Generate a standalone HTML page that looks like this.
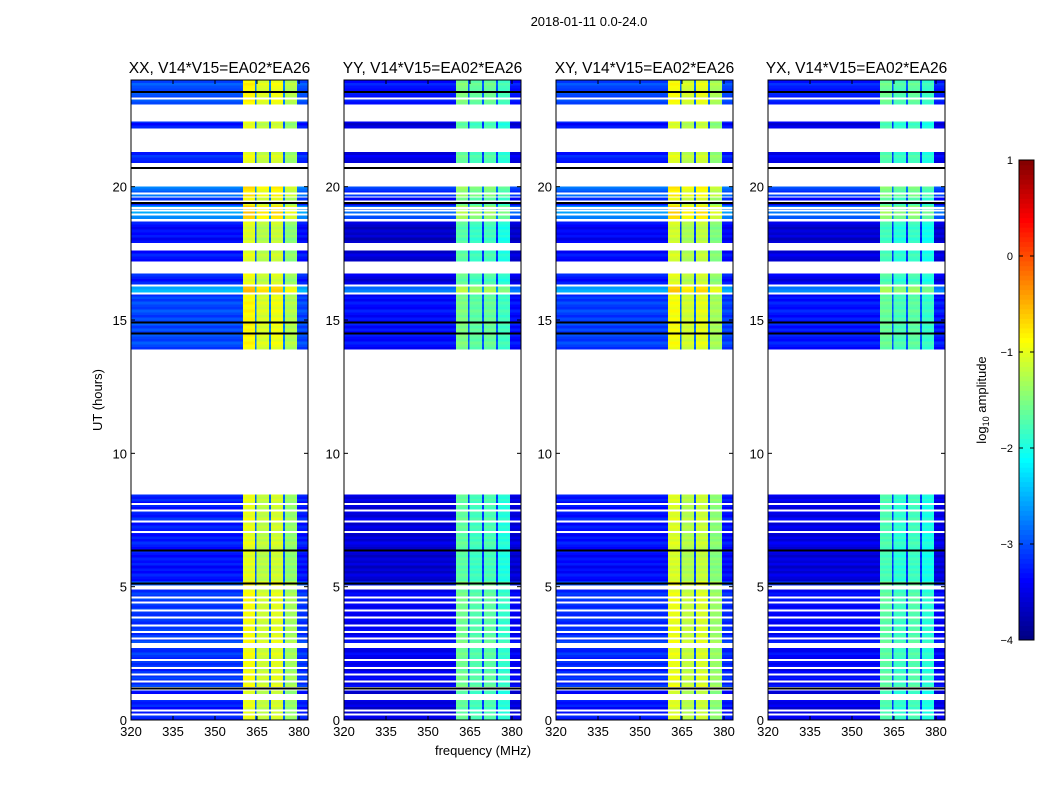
<!DOCTYPE html>
<html><head><meta charset="utf-8">
<style>
body{margin:0;background:#fff;}
svg text{font-family:"Liberation Sans","DejaVu Sans",sans-serif;}
</style></head>
<body>
<svg id="fig" width="1050" height="800" viewBox="0 0 1050 800" xmlns="http://www.w3.org/2000/svg">
<rect width="1050" height="800" fill="#fff"/>
<text x="589" y="26" font-size="13" text-anchor="middle">2018-01-11 0.0-24.0</text>
<text x="483" y="755" font-size="13" text-anchor="middle">frequency (MHz)</text>
<text x="102" y="400" font-size="13" text-anchor="middle" transform="rotate(-90 102 400)">UT (hours)</text>
<g id="panels"></g>
<g id="cbar"></g>
</svg>
<script>
// ---- data ----
const panelTitles = ["XX, V14*V15=EA02*EA26","YY, V14*V15=EA02*EA26","XY, V14*V15=EA02*EA26","YX, V14*V15=EA02*EA26"];
const bgLevel   = [-3.25, -3.55, -3.3, -3.5];
const bandA     = [-1.0, -1.65, -1.05, -1.75];
const bandB     = [-1.2, -1.8, -1.25, -1.9];
const bandC     = [-1.1, -1.75, -1.15, -1.8];
const bandD     = [-1.4, -1.95, -1.45, -2.0];
const notchLevel= [-2.9, -3.1, -3.0, -3.1];
const segments = [
  [0.0,0.75,0.0],[0.98,1.1,0.0],[1.25,2.7,0.1],[2.9,4.9,0.15],[5.05,5.2,0.3],
  [5.2,6.5,-0.05],[6.5,8.45,0.0],
  [13.9,14.5,0.2],[14.5,14.9,0.25],[14.9,15.95,0.2],[16.05,16.25,0.7],[16.35,16.75,0.0],
  [17.2,17.6,-0.05],[17.9,18.7,-0.1],[18.8,19.3,0.6],[19.3,19.6,0.15],[19.65,20.0,0.4],
  [20.9,21.3,0.05],[22.2,22.45,0.0],[23.1,24.0,0.25]
];
const whiteLines = [0.2,0.35,1.45,1.7,1.95,2.25,3.05,3.3,3.55,3.85,4.1,4.4,4.6,7.05,7.45,7.85,8.1,16.0,18.95,19.1,19.2,19.45,19.75,23.3];
const blackLines = [1.18,5.12,6.35,14.5,14.9,19.38,20.7,23.55];
const rowTexture = [0.0,0.12,-0.08,0.05,-0.12,0.1,-0.03,0.08,-0.1,0.02,0.14,-0.06];
const cbTicks = [1,0,-1,-2,-3,-4];
const xTicks = [320,335,350,365,380];
const yTicks = [0,5,10,15,20];

// ---- geometry ----
const panelX = [131,344,556,768], PW=177, PT=80, PB=720;
const F0=320, F1=320+PW/2.8;
const fx=(f,p)=>panelX[p]+(f-F0)/(F1-F0)*PW;
const ty=h=>PB-(h/24)*(PB-PT);
function jet(v){let t=(v+4)/5;t=Math.max(0,Math.min(1,t));
 const c=x=>Math.round(255*Math.max(0,Math.min(1,x)));
 return `rgb(${c(1.5-Math.abs(4*t-3))},${c(1.5-Math.abs(4*t-2))},${c(1.5-Math.abs(4*t-1))})`;}
function level(f,p){
 if(f>=360&&f<364.3) return bandA[p];
 if(f>=364.3&&f<364.8) return notchLevel[p];
 if(f>=364.8&&f<369.3) return bandB[p];
 if(f>=369.3&&f<370) return notchLevel[p];
 if(f>=370&&f<374.3) return bandC[p];
 if(f>=374.3&&f<375) return notchLevel[p];
 if(f>=375&&f<379.3) return bandD[p];
 return bgLevel[p];
}
const NS="http://www.w3.org/2000/svg";
function el(tag,attrs,parent){const e=document.createElementNS(NS,tag);for(const k in attrs)e.setAttribute(k,attrs[k]);parent.appendChild(e);return e;}
const panels=document.getElementById('panels');
const edges=[F0,360,364.3,364.8,369.3,370,374.3,375,379.3,F1];
for(let p=0;p<4;p++){
 const g=el('g',{},panels);
 
 
 const t=el('text',{x:panelX[p]+PW/2,y:73,'font-size':15.5,'text-anchor':'middle'},g);
 t.textContent=panelTitles[p];
 
 
 const hm=el('g',{'shape-rendering':'crispEdges'},g);
 
 
 let ri=0;
 segments.forEach(s=>{
  for(let h=s[0];h<s[1]-1e-6;h+=0.1){
   const h2=Math.min(h+0.1,s[1]);
   const off=s[2]+rowTexture[ri%rowTexture.length];ri++;
   for(let i=0;i<edges.length-1;i++){
    const fm=(edges[i]+edges[i+1])/2;
    const base=level(fm,p);
    const inBand=fm>=360&&fm<379.3;
    const v=base+(inBand?off*0.6:off);
    const r=el('rect',{x:fx(edges[i],p),y:ty(h2),width:fx(edges[i+1],p)-fx(edges[i],p)+0.3,height:ty(h)-ty(h2)+0.3,fill:jet(v)},hm);
    
    
   }
  }
 });
 whiteLines.forEach(h=>{const r=el('rect',{x:panelX[p],y:ty(h)-1,width:PW,height:2,fill:'#fff'},hm);
  });
 blackLines.forEach(h=>{const r=el('rect',{x:panelX[p],y:ty(h)-1,width:PW,height:2,fill:'#000'},hm);
  });
 const fr=el('rect',{x:panelX[p],y:PT,width:PW,height:PB-PT,fill:'none',stroke:'#000','stroke-width':1},g);
 
 xTicks.forEach(f=>{const x=fx(f,p);
  el('line',{x1:x,x2:x,y1:PB,y2:PB-4,stroke:'#000'},g);el('line',{x1:x,x2:x,y1:PT,y2:PT+4,stroke:'#000'},g);
  const tx=el('text',{x:x,y:PB+16,'font-size':13,'text-anchor':'middle'},g);tx.textContent=f;
  });
 yTicks.forEach(v=>{const y=ty(v);
  el('line',{x1:panelX[p],x2:panelX[p]+4,y1:y,y2:y,stroke:'#000'},g);el('line',{x1:panelX[p]+PW,x2:panelX[p]+PW-4,y1:y,y2:y,stroke:'#000'},g);
  const tx=el('text',{x:panelX[p]-4,y:y+5,'font-size':13,'text-anchor':'end'},g);tx.textContent=v;
  });
}
// colorbar
const cb=document.getElementById('cbar');

const CX=1019,CW=15,CT=160,CB=640;
const cy=v=>CB-(v+4)/5*(CB-CT);
for(let i=0;i<100;i++){const v0=-4+i*0.05;
 el('rect',{x:CX,y:cy(v0+0.05),width:CW,height:(CB-CT)/100+0.5,fill:jet(v0+0.025)},cb);}
el('rect',{x:CX,y:CT,width:CW,height:CB-CT,fill:'none',stroke:'#000'},cb);
cbTicks.forEach(v=>{const y=cy(v);
 el('line',{x1:CX,x2:CX+4,y1:y,y2:y,stroke:'#000'},cb);el('line',{x1:CX+CW,x2:CX+CW-4,y1:y,y2:y,stroke:'#000'},cb);
 const tx=el('text',{x:CX-6,y:y+4,'font-size':11,'text-anchor':'end'},cb);tx.textContent=(v<0?'\u2212'+(-v):v);
 });
const lab=el('text',{x:986,y:400,'font-size':13,'text-anchor':'middle',transform:'rotate(-90 986 400)'},cb);
lab.innerHTML='log<tspan font-size="9" dy="3">10</tspan><tspan dy="-3"> amplitude</tspan>';

</script>
</body></html>
